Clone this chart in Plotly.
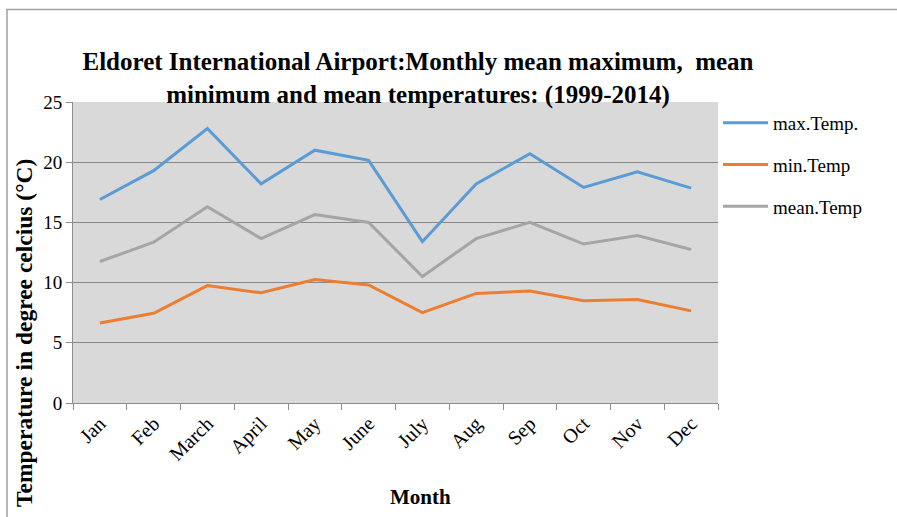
import plotly.graph_objects as go

months = ["Jan", "Feb", "March", "April", "May", "June", "July", "Aug", "Sep", "Oct", "Nov", "Dec"]
max_temp = [16.9, 19.3, 22.8, 18.2, 21.0, 20.15, 13.4, 18.2, 20.7, 17.9, 19.2, 17.85]
min_temp = [6.65, 7.45, 9.75, 9.15, 10.25, 9.8, 7.5, 9.1, 9.3, 8.5, 8.6, 7.65]
mean_temp = [11.75, 13.35, 16.3, 13.65, 15.65, 15.0, 10.5, 13.65, 15.0, 13.2, 13.9, 12.75]

series_names = ["max.Temp.", "min.Temp", "mean.Temp"]
colors = ["#5b9bd5", "#ed7d31", "#a5a5a5"]

W, H = 897, 517
L, R, T, B = 73, 718, 102, 403

fig = go.Figure()
for i, (name, vals) in enumerate(zip(series_names, [max_temp, min_temp, mean_temp])):
    fig.add_trace(go.Scatter(x=months, y=vals, mode="lines", name=name,
                             legendgroup=f"g{i}",
                             line=dict(color=colors[i], width=3)))

serif = "Liberation Serif, Times New Roman, serif"

fig.update_layout(
    width=W, height=H,
    margin=dict(l=L, r=W - R, t=T, b=H - B, autoexpand=False),
    paper_bgcolor="white",
    plot_bgcolor="#d9d9d9",
    font=dict(family=serif, color="black"),
    title=dict(text="Eldoret International Airport:Monthly mean maximum,\u00a0\u00a0mean<br>minimum and mean temperatures: (1999-2014)",
               x=418 / W, xanchor="center", xref="container",
               y=1 - 70 / H, yanchor="top", yref="container",
               font=dict(family=serif, size=25, color="black", weight="bold")),
    showlegend=True,
    legend=dict(x=1.0, xanchor="left", y=(B - 104) / (B - T), yanchor="top",
                font=dict(family=serif, size=19, color="black"), itemwidth=45,
                bgcolor="rgba(0,0,0,0)", tracegroupgap=14),
    xaxis=dict(type="category", showgrid=False, showline=True, linecolor="#8c8c8c", linewidth=1,
               ticks="outside", ticklen=6, tickcolor="#8c8c8c", tickson="boundaries",
               tickangle=-45, tickfont=dict(family=serif, size=20, color="black"),
               range=[-0.5, 11.5], fixedrange=True),
    yaxis=dict(range=[0, 25], dtick=5, showgrid=True, gridcolor="#888888", gridwidth=1,
               showline=True, linecolor="#8c8c8c", linewidth=1, zeroline=False,
               ticks="outside", ticklen=6, tickcolor="#8c8c8c",
               tickfont=dict(family=serif, size=19, color="black"), fixedrange=True),
    annotations=[
        dict(text="Month", xref="paper", yref="paper",
             x=(420 - L) / (R - L), y=(B - 497) / (B - T), xanchor="center", yanchor="middle",
             showarrow=False, font=dict(family=serif, size=21, color="black", weight="bold")),
        dict(text="Temperature in degree celcius (°C)", xref="paper", yref="paper",
             x=(24 - L) / (R - L), y=(B - 333) / (B - T), xanchor="center", yanchor="middle",
             textangle=-90, showarrow=False,
             font=dict(family=serif, size=23.5, color="black", weight="bold")),
    ],
    shapes=[
        dict(type="rect", xref="paper", yref="paper",
             x0=(7 - L) / (R - L), x1=(W + 20 - L) / (R - L),
             y0=(B - (H + 20)) / (B - T), y1=(B - 9.5) / (B - T),
             line=dict(color="#a0a0a0", width=1.5), fillcolor="rgba(0,0,0,0)", layer="below"),
    ],
)

fig.write_html("out.html", config={"displayModeBar": False},
               post_script="document.body.style.margin='0';document.body.style.overflow='hidden';")
